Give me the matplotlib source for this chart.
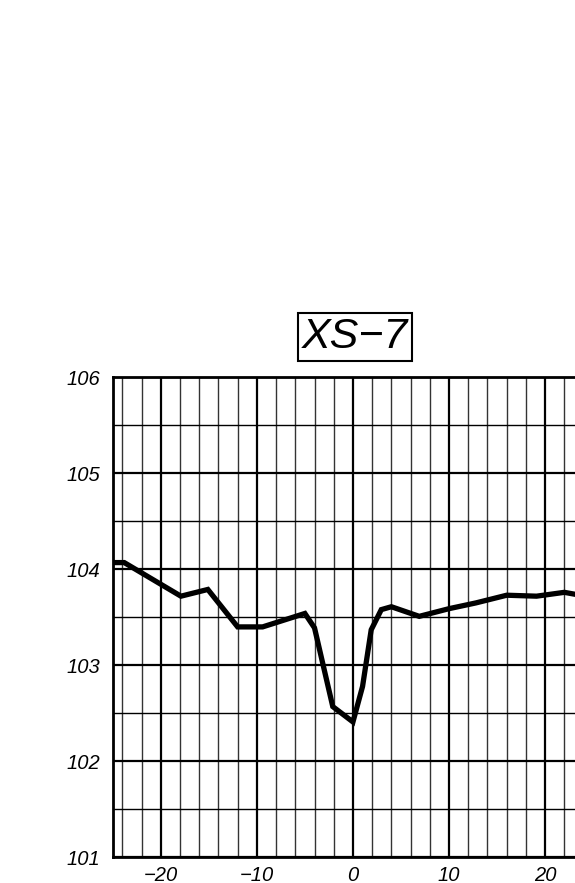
import numpy as np
import matplotlib.pyplot as plt
from matplotlib.ticker import MultipleLocator

# cross-section XS-7: offset vs elevation
offset = [-25.0, -23.8, -17.9, -15.1, -12.0, -9.4, -5.0, -4.0, -2.1, 0.0,
          1.0, 1.9, 2.95, 4.0, 6.9, 10.0, 12.8, 16.0, 19.1, 22.0, 23.1, 24.5]
elev = [104.07, 104.07, 103.72, 103.79, 103.40, 103.40, 103.54, 103.39, 102.57, 102.41,
        102.78, 103.37, 103.58, 103.61, 103.51, 103.59, 103.65, 103.73, 103.72, 103.76, 103.74, 103.74]

x_ticks = [-20, -10, 0, 10, 20]
y_ticks = [101, 102, 103, 104, 105, 106]
title = "XS\u22127"

W, H = 575, 883
fig = plt.figure(figsize=(W / 100, H / 100), dpi=100)
# axes runs past the right edge of the page, as in the scan
ax = fig.add_axes([112.7 / W, (H - 857.3) / H, 480.5 / W, 480 / H])

ax.plot(offset, elev, color="black", lw=3.8, solid_joinstyle="miter", zorder=3)

ax.set_xlim(-25, 25)
ax.set_ylim(101, 106)
ax.set_xticks(x_ticks)
ax.set_yticks(y_ticks)
ax.xaxis.set_minor_locator(MultipleLocator(2))
ax.yaxis.set_minor_locator(MultipleLocator(0.5))

ax.grid(which="major", color="black", lw=1.6)
ax.grid(which="minor", axis="x", color="#333333", lw=1.0)
ax.grid(which="minor", axis="y", color="black", lw=1.0)
ax.tick_params(which="both", length=0)
ax.tick_params(axis="x", pad=6)
ax.tick_params(axis="y", pad=9)
for s in ax.spines.values():
    s.set_linewidth(2)

for lab in ax.get_xticklabels() + ax.get_yticklabels():
    lab.set_fontstyle("italic")
    lab.set_fontsize(14.5)
    lab.set_family("Liberation Sans")

fig.text(355 / W, 1 - 337 / H, title, ha="center", va="center",
         fontsize=31, fontstyle="italic", family="Liberation Sans",
         bbox=dict(boxstyle="square,pad=0.1", fc="white", ec="black", lw=1.5))

fig.savefig("out.png", dpi=100)
